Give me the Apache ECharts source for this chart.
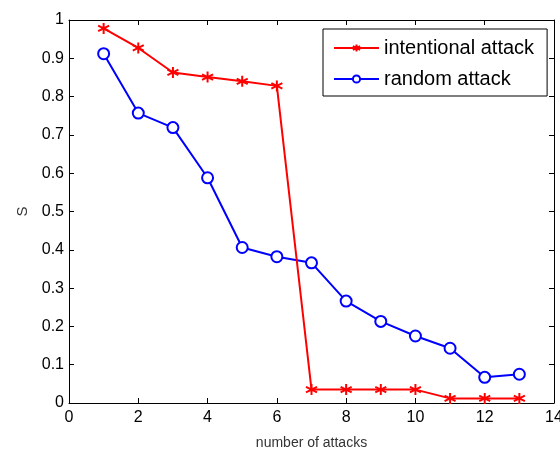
<!DOCTYPE html>
<html>
<head>
<meta charset="utf-8">
<script src="https://cdn.jsdelivr.net/npm/echarts@6/dist/echarts.min.js"></script>
<style>
  html, body { margin: 0; padding: 0; background: #fff; }
  #chart { width: 560px; height: 451px; }
</style>
</head>
<body>
<div id="chart"></div>
<script>
// attack number (x) and S values
var attacks = [1, 2, 3, 4, 5, 6, 7, 8, 9, 10, 11, 12, 13];
var intentional = [0.978, 0.927, 0.863, 0.851, 0.840, 0.828, 0.035, 0.035, 0.035, 0.035, 0.012, 0.012, 0.012];
var random = [0.912, 0.757, 0.719, 0.588, 0.406, 0.382, 0.366, 0.266, 0.213, 0.175, 0.143, 0.067, 0.075];
var seriesNames = ['intentional attack', 'random attack'];

function pairs(ys) {
  var out = [];
  for (var i = 0; i < attacks.length; i++) {
    out.push([attacks[i], ys[i]]);
  }
  return out;
}

var font = 'Liberation Sans, Arial, sans-serif';
var starPath = 'path://M0,-6L0,6M-5.2,-3L5.2,3M-5.2,3L5.2,-3M-1,0L1,0';

var axisBase = {
  axisLine: { show: true, onZero: false, lineStyle: { color: '#000', width: 1 } },
  axisTick: { show: true, inside: true, length: 5, lineStyle: { color: '#000' } },
  splitLine: { show: false }
};

var chart = echarts.init(document.getElementById('chart'));
var option = {
  animation: false,
  backgroundColor: '#fff',
  grid: { left: 69, right: 6, top: 20, bottom: 48, outerBoundsMode: 'none', containLabel: false },
  legend: {
    left: 323,
    top: 29,
    orient: 'vertical',
    padding: [9, 13, 7, 10],
    borderColor: '#000',
    borderWidth: 1,
    borderRadius: 0,
    backgroundColor: '#fff',
    itemWidth: 45,
    itemHeight: 9,
    itemGap: 11,
    textStyle: { fontFamily: font, fontSize: 20, lineHeight: 20, color: '#000' },
    data: seriesNames
  },
  xAxis: [
    Object.assign({}, axisBase, {
      type: 'value', min: 0, max: 14, interval: 2,
      position: 'bottom',
      name: 'number of attacks',
      nameLocation: 'middle',
      nameGap: 33,
      nameTextStyle: { fontFamily: font, fontSize: 14, color: '#333' },
      axisLabel: { fontFamily: font, fontSize: 16, color: '#000', margin: 7 }
    }),
    Object.assign({}, axisBase, {
      type: 'value', min: 0, max: 14, interval: 2,
      position: 'top',
      axisLabel: { show: false }
    })
  ],
  yAxis: [
    Object.assign({}, axisBase, {
      type: 'value', min: 0, max: 1, interval: 0.1,
      position: 'left',
      name: 'S',
      nameLocation: 'middle',
      nameGap: 39,
      nameRotate: 90,
      nameTextStyle: { fontFamily: font, fontSize: 15, color: '#333' },
      axisLabel: { fontFamily: font, fontSize: 16, color: '#000', margin: 5 }
    }),
    Object.assign({}, axisBase, {
      type: 'value', min: 0, max: 1, interval: 0.1,
      position: 'right',
      axisLabel: { show: false }
    })
  ],
  series: [
    {
      name: seriesNames[0],
      type: 'line',
      data: pairs(intentional),
      symbol: starPath,
      symbolSize: 11,
      showAllSymbol: true,
      lineStyle: { color: '#ff0000', width: 2 },
      itemStyle: { color: '#ff0000', borderColor: '#ff0000', borderWidth: 2 },
      z: 3
    },
    {
      name: seriesNames[1],
      type: 'line',
      data: pairs(random),
      symbol: 'emptyCircle',
      symbolSize: 11,
      showAllSymbol: true,
      lineStyle: { color: '#0000ff', width: 2 },
      itemStyle: { color: '#0000ff', borderColor: '#0000ff', borderWidth: 2 },
      z: 2
    }
  ]
};
chart.setOption(option);
</script>
</body>
</html>
